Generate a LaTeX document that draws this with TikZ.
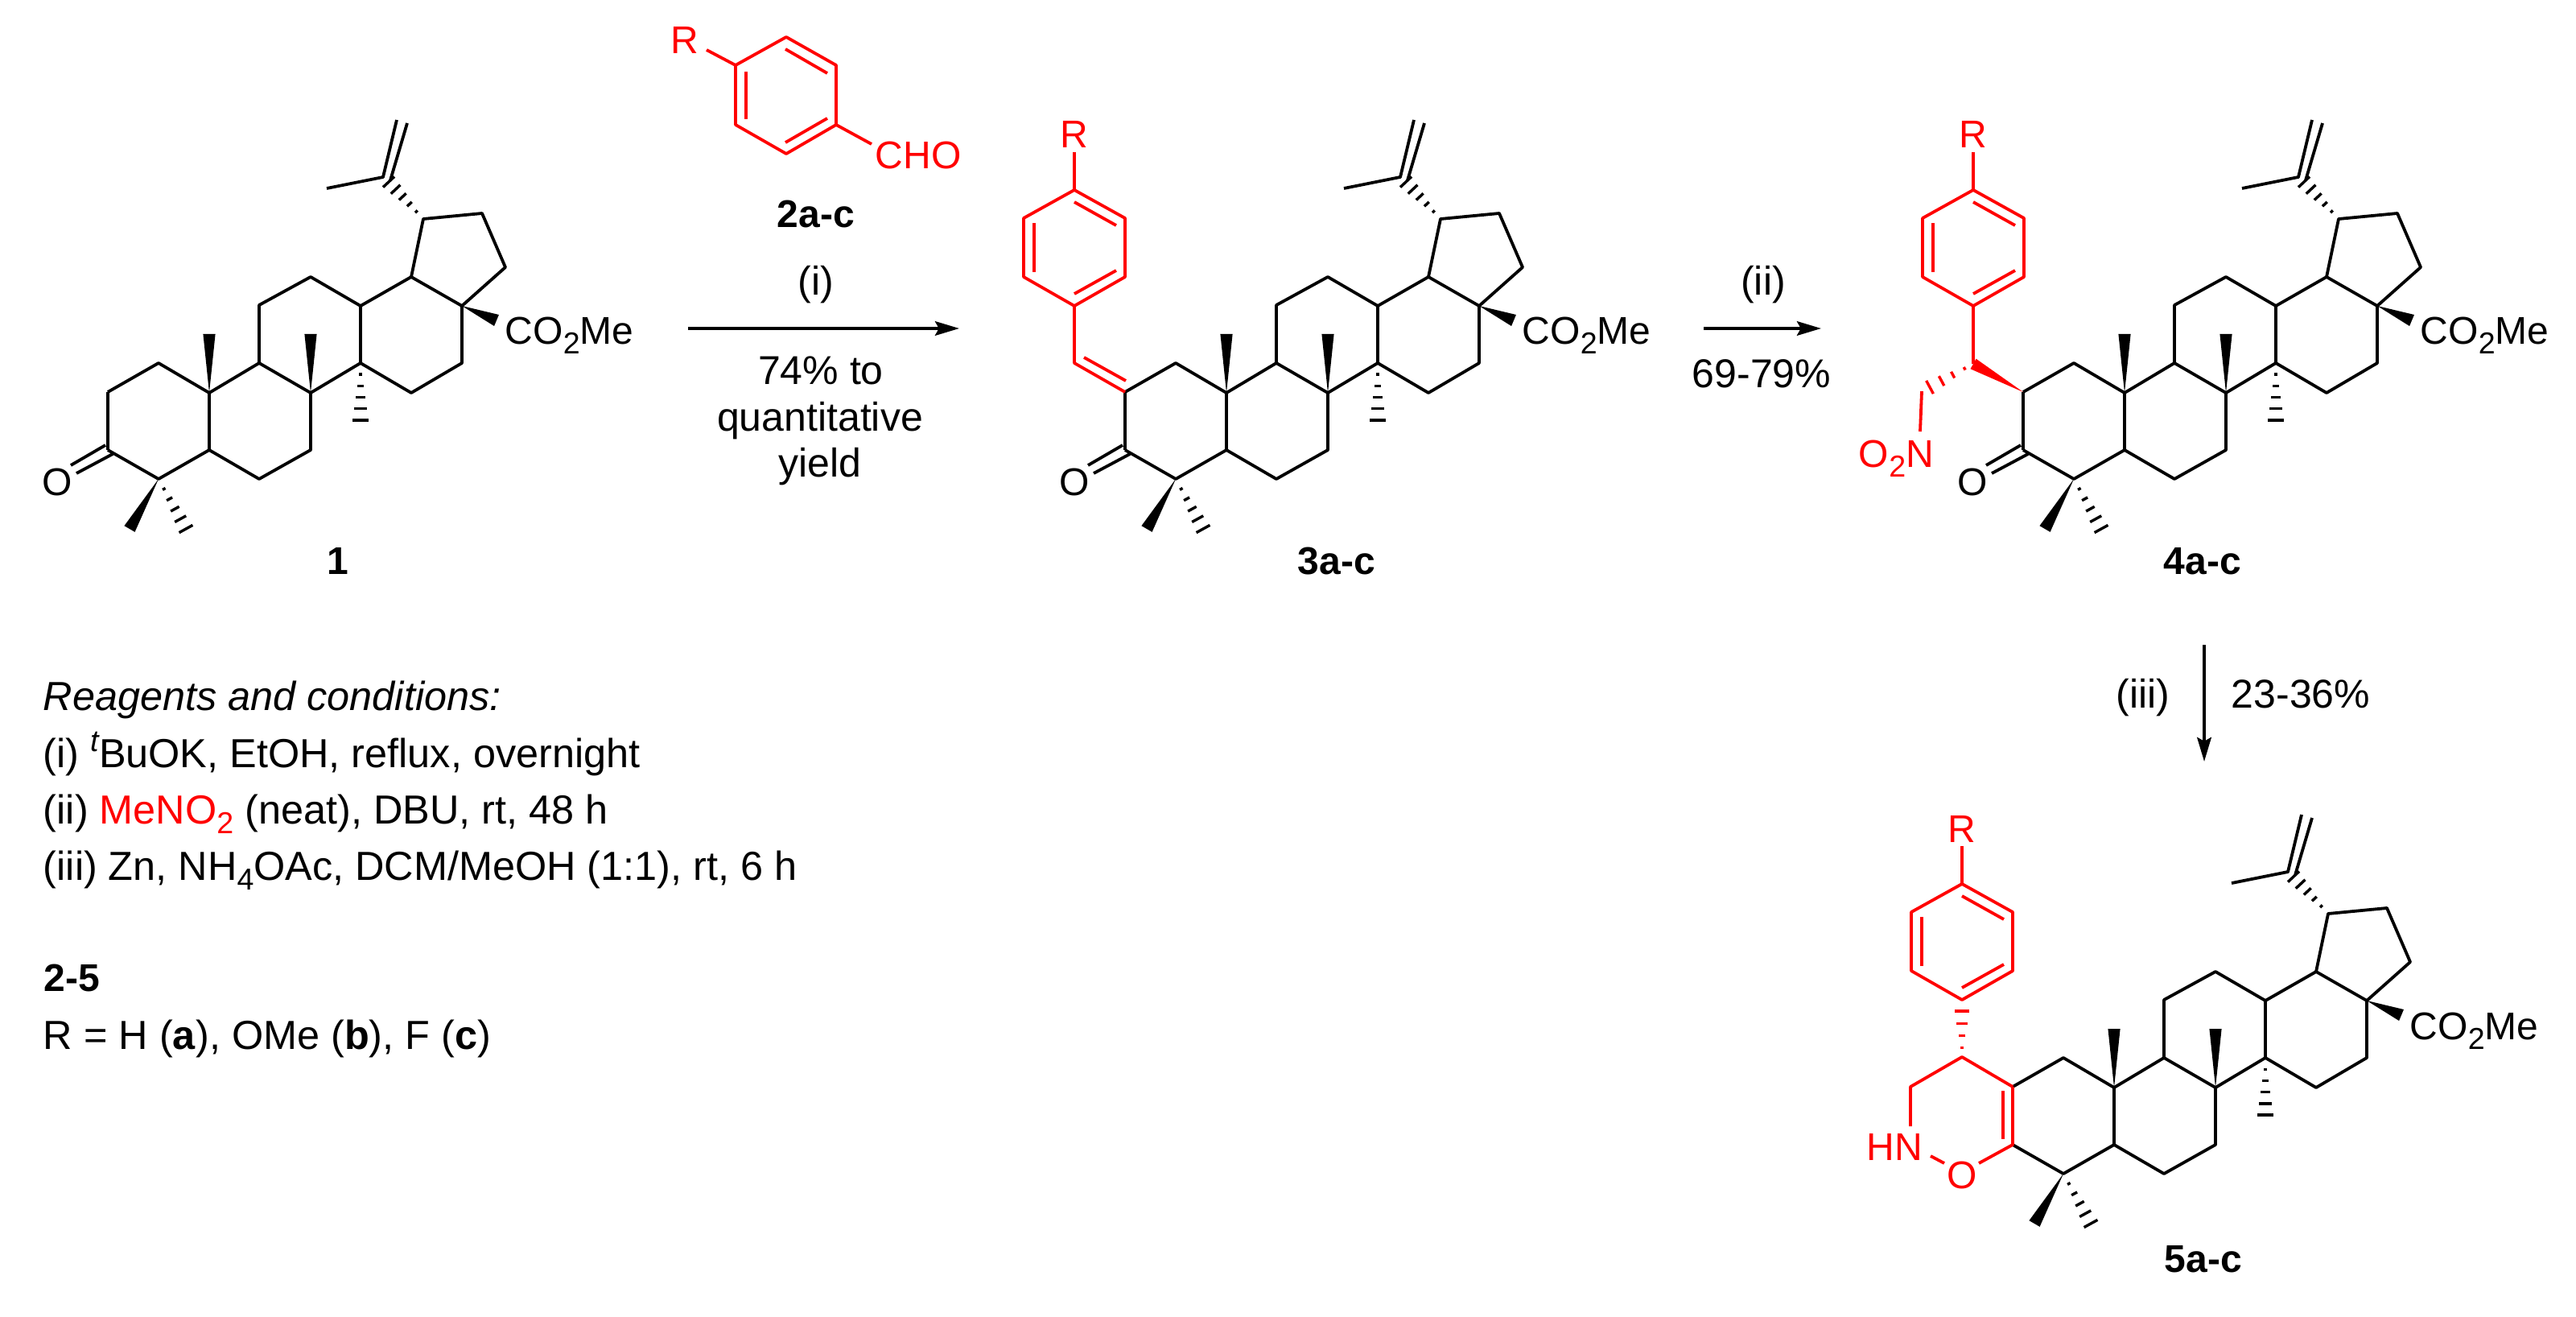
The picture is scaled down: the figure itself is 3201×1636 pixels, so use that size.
\documentclass[tikz,border=0pt]{standalone}
\usepackage{fontspec}
\setmainfont{Liberation Sans}
\usetikzlibrary{calc,arrows.meta}
\def\sbt#1{\raisebox{-3pt}{\fontsize{9.4}{9.4}\selectfont #1}}
\def\fivebars{.2/.5,.4/1,.6/1.5,.8/2,1/2.4}
\def\fourbars{.2/.5,.47/1.1,.73/1.7,1/2.3}
\def\hashb#1#2#3#4{\foreach \t/\w in #4 {\draw[#3,line width=.85pt,line cap=butt] ($(#1)!\t!(#2)!\w pt!90:(#1)$) -- ($(#1)!\t!(#2)!\w pt!-90:(#1)$);}}
\def\wedgeb#1#2#3#4{\fill[#4] (#1) -- ($(#2)!#3 pt!90:(#1)$) -- ($(#2)!#3 pt!-90:(#1)$) -- cycle;}
\def\skel{
    \coordinate (c1) at (197,451); \coordinate (c2) at (134,487);
    \coordinate (c3) at (134,559); \coordinate (c4) at (197,595);
    \coordinate (c5) at (260,559); \coordinate (c6) at (322,595);
    \coordinate (c7) at (386,559); \coordinate (c8) at (386,488);
    \coordinate (c9) at (322,451); \coordinate (c10) at (260,488);
    \coordinate (c11) at (322,379); \coordinate (c12) at (386,344);
    \coordinate (c13) at (448,380); \coordinate (c14) at (448,451);
    \coordinate (c15) at (511,488); \coordinate (c16) at (574,451);
    \coordinate (c17) at (574,380); \coordinate (c18) at (511,344);
    \coordinate (c19) at (526,272); \coordinate (c20) at (476,220);
    \coordinate (c21) at (599,265); \coordinate (c22) at (628,332);
    \coordinate (me) at (406,234);
    \coordinate (ch2a) at (493,149); \coordinate (c20b) at (485,224); \coordinate (ch2b) at (506,153);
    \draw (c3) -- (c4) -- (c5) -- (c10) -- (c1) -- (c2);
    \draw (c5) -- (c6) -- (c7) -- (c8) -- (c9) -- (c10);
    \draw (c9) -- (c11) -- (c12) -- (c13) -- (c14) -- (c8);
    \draw (c14) -- (c15) -- (c16) -- (c17) -- (c18) -- (c13);
    \draw (c18) -- (c19) -- (c21) -- (c22) -- (c17);
    \draw (me) -- (c20) -- (ch2a);
    \draw (c20b) -- (ch2b);
    \coordinate (w10) at (260,415); \coordinate (w8) at (386,415);
    \coordinate (w4) at (161,657); \coordinate (w17) at (617,398);
    \coordinate (h14) at (448,522); \coordinate (h4) at (231,657); \coordinate (h19) at (483,226);
    \wedgeb{c10}{w10}{1.9}{black}
    \wedgeb{c8}{w8}{1.9}{black}
    \wedgeb{c4}{w4}{1.9}{black}
    \wedgeb{c17}{w17}{1.9}{black}
    \hashb{c14}{h14}{black}{\fivebars}
    \hashb{c4}{h4}{black}{\fivebars}
    \hashb{c19}{h19}{black}{\fivebars}
    \node[chem,anchor=base west] (ester) at (626,428) {CO\sbt{2}Me};
}
\def\ketone{
    \coordinate (oa) at (88,578); \coordinate (ob) at (131,553);
    \coordinate (oc) at (95,588); \coordinate (od) at (140,564);
    \draw (c2) -- (c3);
    \draw (oa) -- (ob);
    \draw (oc) -- (od);
    \node[chem] (oxo) at (71,615) {O};
}
\def\aryl#1#2#3{
    \begin{scope}[shift={(#2,#3)},name prefix=#1,red]
    \coordinate (a1) at (0,0); \coordinate (a2) at (63,35);
    \coordinate (a3) at (63,108); \coordinate (a4) at (0,144);
    \coordinate (a5) at (-63,108); \coordinate (a6) at (-63,35);
    \coordinate (rb) at (0,-47);
    \node[chem] (rgrp) at (0,-52) {R};
    \draw (rb) -- (a1);
    \draw (a1) -- (a2) -- (a3) -- (a4) -- (a5) -- (a6) -- cycle;
    \draw (0,15) -- (52,44);
    \draw (0,129) -- (52,100);
    \draw (-50,41) -- (-50,102);
    \end{scope}
}
\tikzset{
    lbl/.style={inner sep=0pt,anchor=base,font=\fontsize{12.5}{14}\selectfont},
    chem/.style={lbl,font=\fontsize{12}{14}\selectfont},
    num/.style={lbl,font=\fontsize{12}{14}\selectfont\bfseries},
    note/.style={lbl,anchor=base west,font=\fontsize{12.6}{14}\selectfont},
    rxn/.style={line width=1pt,-{Stealth[length=7.5pt,width=4.4pt,inset=1.2pt]}},
}
\begin{document}
\begin{tikzpicture}[x=.25pt,y=-.25pt,line width=.95pt,line join=round]
    \useasboundingbox (0,0) rectangle (3201,1636);

    \begin{scope}[name prefix=m1-] \skel \ketone \end{scope}
    \node[num] (lab1) at (420,714) {1};

    \coordinate (b1) at (914,81); \coordinate (b2) at (977,46); \coordinate (b3) at (1039,81);
    \coordinate (b4) at (1039,155); \coordinate (b5) at (977,191); \coordinate (b6) at (914,155);
    \coordinate (br) at (878,62); \coordinate (bc) at (1083,179);
    \draw[red] (b1) -- (b2) -- (b3) -- (b4) -- (b5) -- (b6) -- cycle;
    \draw[red] (br) -- (b1);
    \draw[red] (b4) -- (bc);
    \draw[red] (976,61) -- (1028,91);
    \draw[red] (976,177) -- (1028,147);
    \draw[red] (927,89) -- (927,148);
    \node[chem,red] (r2) at (851,67) {R};
    \node[chem,red,anchor=base west] (cho) at (1086,210) {CHO};
    \node[num] (lab2) at (1014,283) {2a-c};

    \coordinate (s1) at (855,408); \coordinate (e1) at (1192,408);
    \draw[rxn] (s1) -- (e1);
    \node[lbl] (cond1) at (1014,367) {(i)};
    \node[lbl] (yld1a) at (1020,478) {74\% to};
    \node[lbl] (yld1b) at (1019,536) {quantitative};
    \node[lbl] (yld1c) at (1019,593) {yield};

    \begin{scope}[shift={(1264,0)},name prefix=m3-] \skel \ketone \end{scope}
    \aryl{m3-}{1335}{236}
    \coordinate (m3-ch) at (1335,451);
    \draw[red] (m3-a4) -- (m3-ch) -- (m3-c2);
    \draw[red] (1347,444) -- (1399,473);
    \node[num] (lab3) at (1661,713) {3a-c};

    \coordinate (s2) at (2117,408); \coordinate (e2) at (2263,408);
    \draw[rxn] (s2) -- (e2);
    \node[lbl] (cond2) at (2191,367) {(ii)};
    \node[lbl] (yld2) at (2189,482) {69-79\%};

    \begin{scope}[shift={(2380,0)},name prefix=m4-] \skel \ketone \end{scope}
    \aryl{m4-}{2452}{236}
    \coordinate (m4-ch) at (2452,452); \coordinate (m4-cn) at (2388,486);
    \coordinate (m4-hh) at (2398,481); \coordinate (m4-nb) at (2386,536);
    \draw[red] (m4-a4) -- (m4-ch);
    \wedgeb{m4-c2}{m4-ch}{1.8}{red}
    \hashb{m4-ch}{m4-hh}{red}{\fourbars}
    \draw[red] (m4-cn) -- (m4-nb);
    \node[chem,red,anchor=base west] (no2) at (2308,581) {O\sbt{2}N};
    \node[num] (lab4) at (2737,713) {4a-c};

    \coordinate (s3) at (2739,801); \coordinate (e3) at (2739,946);
    \draw[rxn] (s3) -- (e3);
    \node[lbl,anchor=base east] (cond3) at (2698,879) {(iii)};
    \node[lbl,anchor=base west] (yld3) at (2771,879) {23-36\%};

    \begin{scope}[shift={(2367,863)},name prefix=m5-] \skel \end{scope}
    \aryl{m5-}{2438}{1098}
    \coordinate (m5-ch) at (2438,1313); \coordinate (m5-hh) at (2438,1256);
    \coordinate (m5-c) at (2374,1350); \coordinate (m5-nb) at (2374,1399);
    \coordinate (m5-na) at (2399,1436); \coordinate (m5-oa) at (2416,1445);
    \coordinate (m5-ob) at (2459,1445);
    \draw[red] (m5-c2) -- (m5-ch) -- (m5-c) -- (m5-nb);
    \draw[red] (m5-c2) -- (m5-c3) -- (m5-ob);
    \draw[red] (2489,1355) -- (2489,1415);
    \draw[red] (m5-na) -- (m5-oa);
    \hashb{m5-ch}{m5-hh}{red}{\fourbars}
    \node[chem,red,anchor=base east] (hn) at (2391,1441) {HN};
    \node[chem,red] (ox) at (2438,1476) {O};
    \node[num] (lab5) at (2738,1580) {5a-c};

    \node[note] (t1) at (52,882) {\itshape Reagents and conditions:};
    \node[note] (t2) at (52,953) {(i) \raisebox{5pt}{\fontsize{9.4}{9.4}\selectfont\itshape t}BuOK, EtOH, reflux, overnight};
    \node[note] (t3) at (52,1023) {(ii) {\color{red}MeNO\sbt{2}} (neat), DBU, rt, 48 h};
    \node[note] (t4) at (52,1093) {(iii) Zn, NH\sbt{4}OAc, DCM/MeOH (1:1), rt, 6 h};
    \node[note,font=\fontsize{12}{14}\selectfont\bfseries] (t5) at (53,1231) {2-5};
    \node[note] (t6) at (52,1303) {R = H (\textbf{a}), OMe (\textbf{b}), F (\textbf{c})};
\end{tikzpicture}
\end{document}
